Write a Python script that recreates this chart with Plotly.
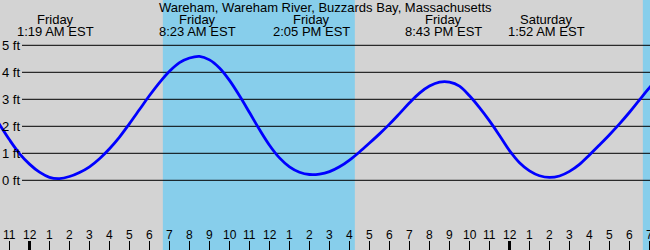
import plotly.graph_objects as go

# ---- data (hours from midnight Friday, heights in ft, read every half hour) ----
tide_hours = [h / 2 for h in range(-4, 65)]
tide_ft = [2.64, 2.07, 1.50, 0.99, 0.60,
           0.30, 0.11, 0.065, 0.14, 0.29, 0.50, 0.80, 1.17, 1.60, 2.10,
           2.62, 3.14, 3.62, 4.04, 4.36, 4.53, 4.59, 4.46, 4.16, 3.70,
           3.13, 2.51, 1.88, 1.30, 0.83, 0.50, 0.30, 0.215, 0.23, 0.32,
           0.50, 0.75, 1.05, 1.38, 1.72, 2.08, 2.47, 2.87, 3.23, 3.49,
           3.64, 3.64, 3.49, 3.13, 2.69, 2.20, 1.66, 1.10, 0.65, 0.35,
           0.17, 0.105, 0.16, 0.33, 0.59, 0.94, 1.31, 1.69, 2.09, 2.52,
           2.98, 3.43, 3.80, 4.06]

ext_hours = [1.317, 8.383, 14.083, 20.717, 25.867]
ext_days = ["Friday", "Friday", "Friday", "Friday", "Saturday"]
ext_times = ["1:19 AM EST", "8:23 AM EST", "2:05 PM EST", "8:43 PM EST", "1:52 AM EST"]

day_starts = [6.667, 30.667]
day_ends = [16.267, 33.0]

ft_levels = [0, 1, 2, 3, 4, 5]
ft_labels = ["0 ft", "1 ft", "2 ft", "3 ft", "4 ft", "5 ft"]

hour_ticks = list(range(-1, 32))
hour_labels = ["11", "12", "1", "2", "3", "4", "5", "6", "7", "8", "9", "10", "11",
               "12", "1", "2", "3", "4", "5", "6", "7", "8", "9", "10", "11",
               "12", "1", "2", "3", "4", "5", "6", "7"]
midnights = [0, 24]

title = "Wareham, Wareham River, Buzzards Bay, Massachusetts"

# ---- figure ----
W, H = 650, 250
FONT = "Liberation Sans, Arial, sans-serif"
fig = go.Figure()
fig.add_trace(go.Scatter(x=tide_hours, y=tide_ft, mode="lines",
                         line=dict(color="#0000FF", width=2.8, shape="spline", smoothing=1.0),
                         hoverinfo="skip", showlegend=False))

shapes = []
for s, e in zip(day_starts, day_ends):
    shapes.append(dict(type="rect", xref="x", yref="paper", x0=s, x1=e, y0=0, y1=1,
                       fillcolor="#87CEEB", line=dict(width=0), layer="below"))
for lv in ft_levels:
    shapes.append(dict(type="line", xref="paper", yref="y", x0=22 / W, x1=1, y0=lv, y1=lv,
                       line=dict(color="black", width=1), layer="below"))
for h in hour_ticks:
    shapes.append(dict(type="line", xref="x", yref="paper", x0=h, x1=h, y0=0, y1=9 / H,
                       line=dict(color="black", width=3 if h in midnights else 1)))

ann = []
ann.append(dict(text=title, x=0.5, y=1 - 7.5 / H, xref="paper", yref="paper",
                showarrow=False, font=dict(size=13, color="black", family=FONT),
                xanchor="center", yanchor="middle"))
for h, d, t in zip(ext_hours, ext_days, ext_times):
    ann.append(dict(text=d, x=h, y=1 - 19.5 / H, xref="x", yref="paper", showarrow=False,
                    font=dict(size=13, color="black", family=FONT), xanchor="center", yanchor="middle"))
    ann.append(dict(text=t, x=h, y=1 - 31.7 / H, xref="x", yref="paper", showarrow=False,
                    font=dict(size=13, color="black", family=FONT), xanchor="center", yanchor="middle"))
for lv, lab in zip(ft_levels, ft_labels):
    ann.append(dict(text=lab, x=0, y=lv, xref="paper", yref="y", showarrow=False,
                    font=dict(size=13, color="black", family=FONT), xanchor="left", yanchor="middle",
                    xshift=1, borderpad=0))
for h, lab in zip(hour_ticks, hour_labels):
    ann.append(dict(text=lab, x=h, y=(H - 235) / H, xref="x", yref="paper", showarrow=False,
                    font=dict(size=12, color="black", family=FONT), xanchor="center", yanchor="middle",
                    borderpad=0))

fig.update_layout(
    width=W, height=H, margin=dict(l=0, r=0, t=0, b=0),
    paper_bgcolor="#D3D3D3", plot_bgcolor="#D3D3D3",
    xaxis=dict(range=[-1.475, 31.025], visible=False, fixedrange=True),
    yaxis=dict(range=[(180.3 - 250) / 27, 180.3 / 27], visible=False, fixedrange=True),
    shapes=shapes, annotations=ann, showlegend=False,
)
fig.write_html("out.html", config={"displayModeBar": False})
